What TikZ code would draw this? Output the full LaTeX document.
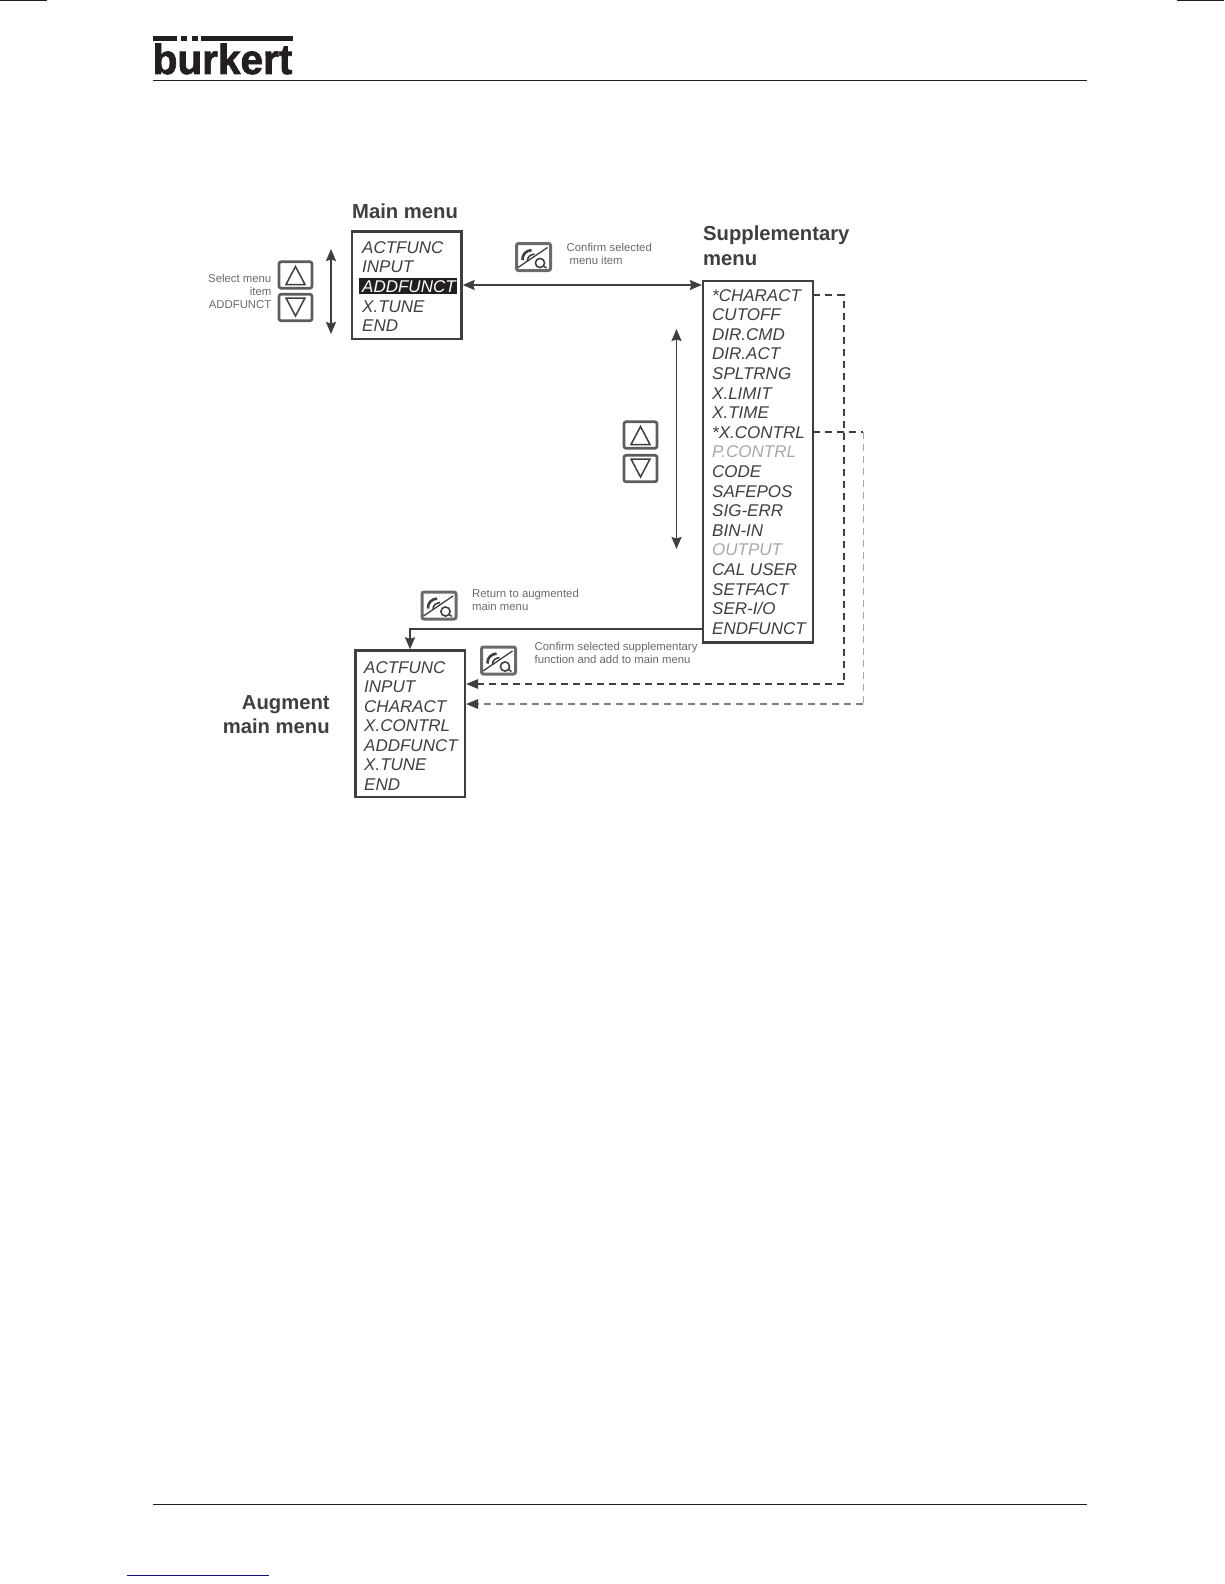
\documentclass[tikz,border=0pt]{standalone}
\usepackage{fontspec}
\setmainfont{Liberation Sans}
\newfontfamily\logofont[BoldFeatures={FakeBold=1.8}]{Liberation Sans}
\usetikzlibrary{arrows.meta,calc}
\definecolor{ink}{HTML}{3F3F3F}
\definecolor{soft}{HTML}{6A6A6A}
\definecolor{faint}{HTML}{A8A8A8}
\definecolor{rulecol}{HTML}{231F20}
\definecolor{linkblue}{HTML}{10107A}
\tikzset{
  x=1pt,y=-1pt,
  menubox/.style={draw=ink,line width=2.2pt,fill=white,rectangle,inner sep=0pt,outer sep=0pt,anchor=north west},
  menuitem/.style={anchor=base west,inner sep=0pt,text=ink,font=\fontsize{17}{19}\selectfont\itshape},
  dimitem/.style={menuitem,text=faint},
  heading/.style={anchor=base west,inner sep=0pt,text=ink,font=\fontsize{20.25}{24}\selectfont\bfseries},
  note/.style={anchor=base west,inner sep=0pt,text=soft,font=\fontsize{11.35}{13}\selectfont},
  noter/.style={note,anchor=base east},
  keybox/.style={draw=ink!85,line width=2.6pt,rounded corners=2pt,fill=white,rectangle,inner sep=0pt,outer sep=0pt,minimum width=33pt,minimum height=26.5pt,anchor=center},
  iconbox/.style={draw=soft,line width=3pt,rounded corners=2pt,fill=white,rectangle,inner sep=0pt,outer sep=0pt,minimum width=34pt,minimum height=27pt,anchor=center},
  glyph/.style={draw=ink,line width=1.5pt,line join=miter},
  conn/.style={draw=ink,line width=1.5pt},
  tip/.style={-{Stealth[length=12pt,width=10pt,inset=1.5pt]}},
  bitip/.style={{Stealth[length=12pt,width=10pt,inset=1.5pt]}-{Stealth[length=12pt,width=10pt,inset=1.5pt]}},
  dashconn/.style={draw=ink,line width=2pt,dash pattern=on 7pt off 5pt},
  dashsoft/.style={draw=soft!85,line width=1.8pt,dash pattern=on 7pt off 5pt},
  dashthin/.style={draw=faint,line width=.8pt,dash pattern=on 7pt off 5pt},
  ruleline/.style={draw=rulecol,line width=1.3pt},
}
\newcommand{\upkey}[3]{%
  \node[keybox] (#1) at (#2,#3) {};
  \draw[glyph] ($(#1.center)+(0,-8.5)$) -- ($(#1.center)+(9.5,9.5)$) -- ($(#1.center)+(-9.5,9.5)$) -- cycle;
}
\newcommand{\downkey}[3]{%
  \node[keybox] (#1) at (#2,#3) {};
  \draw[glyph] ($(#1.center)+(0,8.5)$) -- ($(#1.center)+(9.5,-9.5)$) -- ($(#1.center)+(-9.5,-9.5)$) -- cycle;
}
\newcommand{\enterkey}[3]{%
  \node[iconbox] (#1) at (#2,#3) {};
  \draw[draw=ink,line width=1.3pt] ($(#1.center)+(-15.5,10.5)$) -- ($(#1.center)+(14,-9.5)$);
  \draw[draw=ink,line width=1.6pt] ($(#1.center)+(6.5,6)$) circle[radius=4.6pt];
  \draw[draw=ink,line width=1.4pt] ($(#1.center)+(10,9)$) -- ($(#1.center)+(13,11)$);
  \draw[draw=ink,line width=2.6pt] ($(#1.center)+(-11,3)$) .. controls ($(#1.center)+(-11,-4)$) and ($(#1.center)+(-7,-6)$) .. ($(#1.center)+(-2,-7)$);
  \draw[draw=ink,line width=1.6pt] ($(#1.center)+(-6,4)$) .. controls ($(#1.center)+(-6,-1)$) and ($(#1.center)+(-3,-2)$) .. ($(#1.center)+(1,-3)$);
}
\begin{document}
\begin{tikzpicture}
\useasboundingbox (0,0) rectangle (1224,1584);
\fill[white] (0,0) rectangle (1224,1584);

% page furniture
\coordinate (cropLa) at (0,0.7); \coordinate (cropLb) at (47,0.7);
\coordinate (cropRa) at (1177,0.7); \coordinate (cropRb) at (1224,0.7);
\draw[ruleline] (cropLa) -- (cropLb);
\draw[ruleline] (cropRa) -- (cropRb);
\coordinate (headA) at (153,80.5); \coordinate (headB) at (1087,80.5);
\draw[ruleline] (headA) -- (headB);
\coordinate (footA) at (153,1504.3); \coordinate (footB) at (1087,1504.3);
\draw[ruleline] (footA) -- (footB);
\coordinate (linkA) at (127,1575.3); \coordinate (linkB) at (269,1575.3);
\draw[draw=linkblue,line width=1.4pt] (linkA) -- (linkB);

% logo
\node[anchor=base west,inner sep=0pt,text=rulecol] (logo) at (152.5,74) {\scalebox{.965}[1]{\fontsize{42}{46}\selectfont\logofont\bfseries bürkert}};
\fill[white] (177,41) rectangle (200,51);
\fill[rulecol] (153,36) rectangle (177,41);
\fill[rulecol] (181,36) rectangle (187,41);
\fill[rulecol] (192,36) rectangle (198,41);
\fill[rulecol] (201,36) rectangle (293,41);

% main menu
\node[heading] (mainTitle) at (352,218) {Main menu};
\node[menubox,minimum width=109.5pt,minimum height=107.5pt] (mainBox) at (352,231.5) {};
\fill[rulecol] (359,278) rectangle (457,294);
\node[menuitem] (m1) at (362,253) {ACTFUNC};
\node[menuitem] (m2) at (362,272.5) {INPUT};
\node[menuitem,text=white] (m3) at (362,292) {ADDFUNCT};
\node[menuitem] (m4) at (362,312) {X.TUNE};
\node[menuitem] (m5) at (362,331) {END};

% select keys
\node[noter] (sel1) at (271.5,282) {Select menu};
\node[noter] (sel2) at (271.5,295) {item};
\node[noter] (sel3) at (271.5,308) {ADDFUNCT};
\upkey{keyUpA}{295.5}{275}
\downkey{keyDnA}{295.5}{307.5}
\coordinate (vaTop) at (331,249); \coordinate (vaBot) at (331,334);
\draw[conn,bitip] (vaTop) -- (vaBot);

% confirm 1
\enterkey{iconA}{533.5}{257}
\node[note] (cA1) at (566.5,251) {Confirm selected};
\node[note] (cA2) at (569.5,264) {menu item};

% supplementary menu
\node[heading] (supT1) at (703,240) {Supplementary};
\node[heading] (supT2) at (703,265) {menu};
\node[menubox,minimum width=110pt,minimum height=361.5pt] (supBox) at (703,281) {};
\foreach \nm/\txt/\yy/\sty in {
 s1/*CHARACT/301/menuitem, s2/CUTOFF/320.6/menuitem, s3/DIR.CMD/340.2/menuitem,
 s4/DIR.ACT/359.8/menuitem, s5/SPLTRNG/379.4/menuitem, s6/X.LIMIT/399/menuitem,
 s7/X.TIME/418.6/menuitem, s8/*X.CONTRL/438.2/menuitem, s9/P.CONTRL/457.8/dimitem,
 s10/CODE/477.4/menuitem, s11/SAFEPOS/497/menuitem, s12/SIG-ERR/516.6/menuitem,
 s13/BIN-IN/536.2/menuitem, s14/OUTPUT/555.8/dimitem, s15/CAL USER/575.4/menuitem,
 s16/SETFACT/595/menuitem, s17/SER-I\slash O/614.6/menuitem, s18/ENDFUNCT/634.2/menuitem}
 {\node[\sty] (\nm) at (712,\yy) {\txt};}

% second select keys
\upkey{keyUpB}{640.5}{435}
\downkey{keyDnB}{640.5}{468.5}
\coordinate (vbTop) at (676.5,329); \coordinate (vbBot) at (676.5,549);
\draw[conn,bitip] (vbTop) -- (vbBot);

% return and confirm notes
\enterkey{iconB}{439}{605.5}
\node[note] (rN1) at (472,597) {Return to augmented};
\node[note] (rN2) at (472,610) {main menu};
\enterkey{iconC}{498.5}{660.5}
\node[note] (cN1) at (534.5,650) {Confirm selected supplementary};
\node[note] (cN2) at (534.5,663) {function and add to main menu};

% augmented menu
\node[heading] (augT1) at (329,709) {\llap{Augment}};
\node[heading] (augT2) at (329,733) {\llap{main menu}};
\node[menubox,minimum width=109.5pt,minimum height=146.5pt] (augBox) at (355.5,650.5) {};
\foreach \nm/\txt/\yy in {a1/ACTFUNC/673, a2/INPUT/692.5, a3/CHARACT/712, a4/X.CONTRL/731.5, a5/ADDFUNCT/751, a6/X.TUNE/770.5, a7/END/790}
 {\node[menuitem] (\nm) at (364,\yy) {\txt};}

% connectors
\draw[conn,bitip,shorten <=1.2pt,shorten >=1.2pt] (mainBox.east |- 0,285) -- (supBox.west |- 0,285);
\coordinate (retCorner) at (410,629);
\draw[conn,tip,shorten >=1.2pt] (supBox.west |- retCorner) -- (retCorner) -- (retCorner |- augBox.north);
\coordinate (dA1) at (843.5,295); \coordinate (dA2) at (843.5,684);
\draw[dashconn] (supBox.east |- dA1) -- (dA1) -- (dA2);
\draw[dashconn] (dA2) -- ($(augBox.east |- dA2)+(11,0)$);
\fill[ink] (augBox.east |- dA2) ++(1.2,0) -- ++(12,-5) -- ++(0,10) -- cycle;
\coordinate (dB1) at (863,431.5); \coordinate (dB2) at (863,704);
\draw[dashconn] (supBox.east |- dB1) -- (dB1);
\draw[dashthin] (dB1) -- (dB2);
\draw[dashsoft] (dB2) -- ($(augBox.east |- dB2)+(11,0)$);
\fill[ink] (augBox.east |- dB2) ++(1.2,0) -- ++(12,-5) -- ++(0,10) -- cycle;
\end{tikzpicture}
\end{document}
